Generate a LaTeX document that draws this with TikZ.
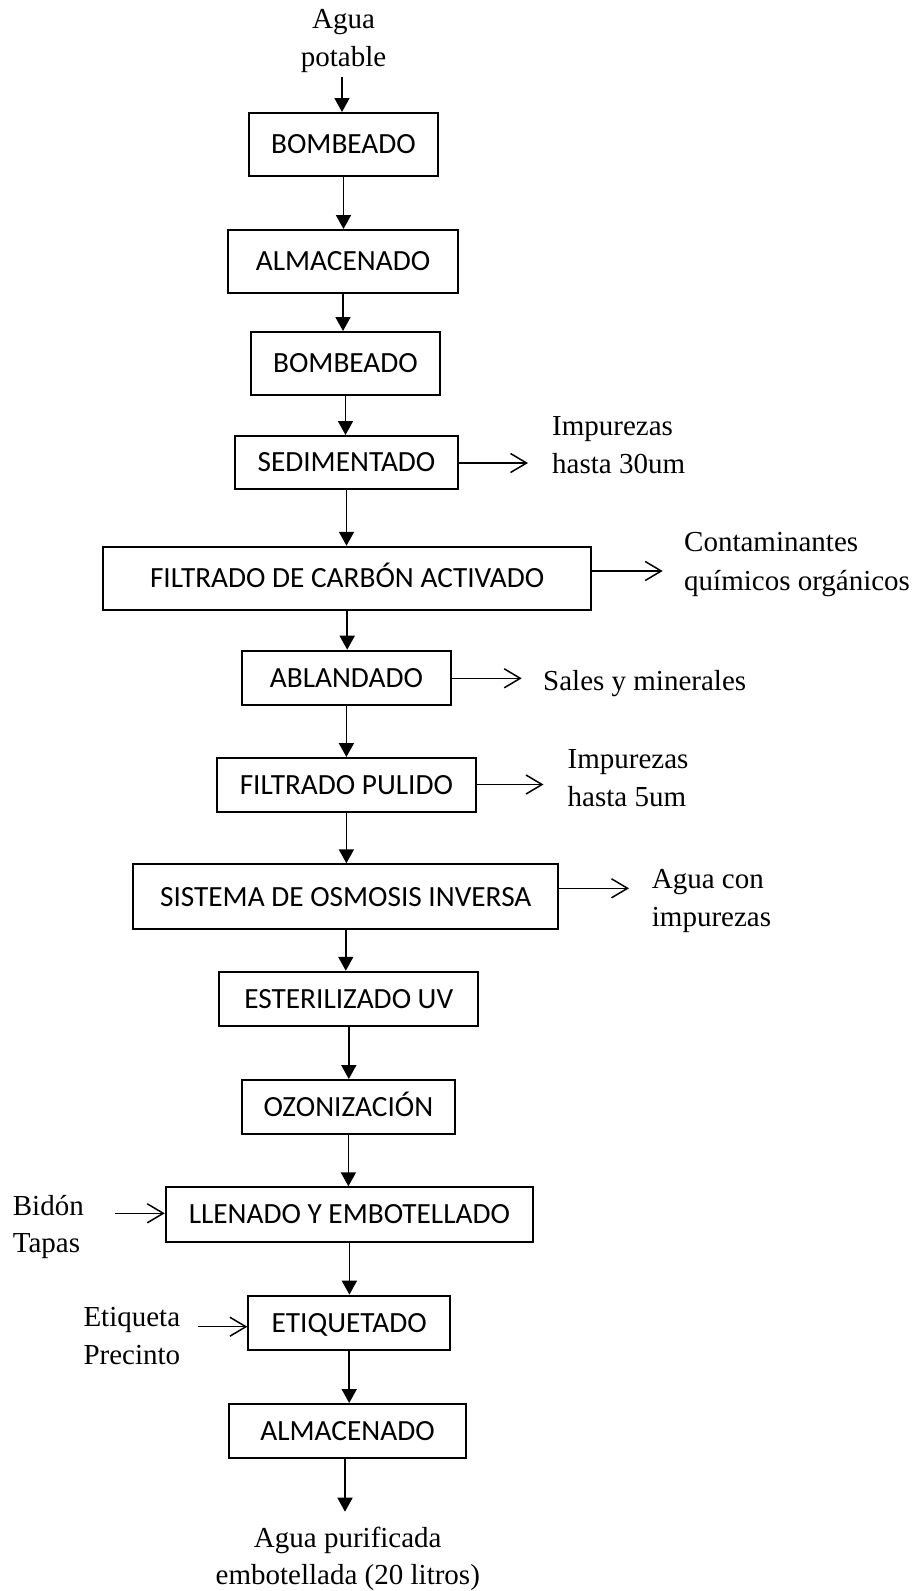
\documentclass[tikz,border=0pt]{standalone}
\usepackage{fontspec}
\setmainfont{Liberation Serif}
\newfontfamily\boxfont{Carlito}
\usetikzlibrary{arrows.meta}
\newcommand\leftlines[1]{\vtop{\halign{##\hfil\cr#1\crcr}}}
\newcommand\midlines[1]{\vtop{\halign{\hfil##\hfil\cr#1\crcr}}}
\tikzset{
  procbox/.style={draw, line width=2pt, inner sep=0pt,
    font=\boxfont\fontsize{29.3}{34}\selectfont,
    text height=18.9pt, text depth=0pt},
  lbl/.style={inner sep=0pt, font=\fontsize{29}{38.5}\selectfont},
  flow/.style={line width=1.8pt, -{Triangle[length=14pt,width=15pt]}},
  side/.style={line width=1.5pt, -{Straight Barb[length=16pt,width=19pt]}}
}
\begin{document}
\begin{tikzpicture}[x=1pt,y=-1pt]
\useasboundingbox (0,0) rectangle (920,1591);

% process boxes
\node[procbox, minimum width=189pt, minimum height=63pt] (b1) at (343.5,144.5) {BOMBEADO};
\node[procbox, minimum width=230pt, minimum height=63pt] (b2) at (343,261.5) {ALMACENADO};
\node[procbox, minimum width=189pt, minimum height=63pt] (b3) at (345.5,363.5) {BOMBEADO};
\node[procbox, minimum width=223pt, minimum height=53pt] (b4) at (346.5,462.5) {SEDIMENTADO};
\node[procbox, minimum width=487.7pt, minimum height=63.3pt] (b5) at (347.2,578.4) {FILTRADO DE CARBÓN ACTIVADO};
\node[procbox, minimum width=209.3pt, minimum height=54pt] (b6) at (346.4,677.7) {ABLANDADO};
\node[procbox, minimum width=259.3pt, minimum height=54pt] (b7) at (346.4,785) {FILTRADO PULIDO};
\node[procbox, minimum width=425pt, minimum height=65pt] (b8) at (345.8,896.8) {SISTEMA DE OSMOSIS INVERSA};
\node[procbox, minimum width=259pt, minimum height=54.3pt] (b9) at (348.8,998.9) {ESTERILIZADO UV};
\node[procbox, minimum width=213.3pt, minimum height=54pt] (b10) at (348.4,1107) {OZONIZACIÓN};
\node[procbox, minimum width=367.3pt, minimum height=54.4pt] (b11) at (349.4,1214.5) {LLENADO Y EMBOTELLADO};
\node[procbox, minimum width=201.7pt, minimum height=54.3pt] (b12) at (349.2,1322.8) {ETIQUETADO};
\node[procbox, minimum width=237pt, minimum height=54pt] (b13) at (347.5,1431) {ALMACENADO};

% labels
\node[lbl, anchor=base] (agua) at (343.5,28) {\midlines{Agua\cr potable}};
\node[lbl, anchor=base west] (imp1) at (552,435) {\leftlines{Impurezas\cr hasta 30um}};
\node[lbl, anchor=base west] (cont) at (684,551.7) {\leftlines{Contaminantes\cr químicos orgánicos}};
\node[lbl, anchor=base west] (sales) at (543,690.7) {Sales y minerales};
\node[lbl, anchor=base west] (imp2) at (567.5,768) {\leftlines{Impurezas\cr hasta 5um}};
\node[lbl, anchor=base west] (aguacon) at (651.7,888) {\leftlines{Agua con\cr impurezas}};
\node[lbl, anchor=base west, font=\fontsize{29}{37.5}\selectfont] (bidon) at (12.7,1215) {\leftlines{Bidón\cr Tapas}};
\node[lbl, anchor=base west] (etiq) at (83.3,1326) {\leftlines{Etiqueta\cr Precinto}};
\node[lbl, anchor=base, font=\fontsize{29}{36.5}\selectfont] (final) at (347.8,1547.5) {\midlines{Agua purificada\cr embotellada (20 litros)}};

% free ends of connectors
\coordinate (src) at (342,77);
\coordinate (sink) at (345,1511.7);
\coordinate (e4) at (528,463);
\coordinate (e5) at (662.7,571);
\coordinate (e6) at (521.7,678.3);
\coordinate (e7) at (543.5,784.5);
\coordinate (e8) at (629,888.3);
\coordinate (s11) at (115,1213.3);
\coordinate (s12) at (198,1326.7);

% main flow
\draw[flow] (src) -- (src |- b1.north);
\foreach \a/\b in {b1/b2,b2/b3,b3/b4,b4/b5,b5/b6,b6/b7,b7/b8,b8/b9,b9/b10,b10/b11,b11/b12,b12/b13}
  \draw[flow] (\a.south) -- (\a.south |- \b.north);
\draw[flow] (sink |- b13.south) -- (sink);

% side streams
\draw[side] (b4.east |- e4) -- (e4);
\draw[side] (b5.east |- e5) -- (e5);
\draw[side] (b6.east |- e6) -- (e6);
\draw[side] (b7.east |- e7) -- (e7);
\draw[side] (b8.east |- e8) -- (e8);
\draw[side] (s11) -- (s11 -| b11.west);
\draw[side] (s12) -- (s12 -| b12.west);
\end{tikzpicture}
\end{document}
